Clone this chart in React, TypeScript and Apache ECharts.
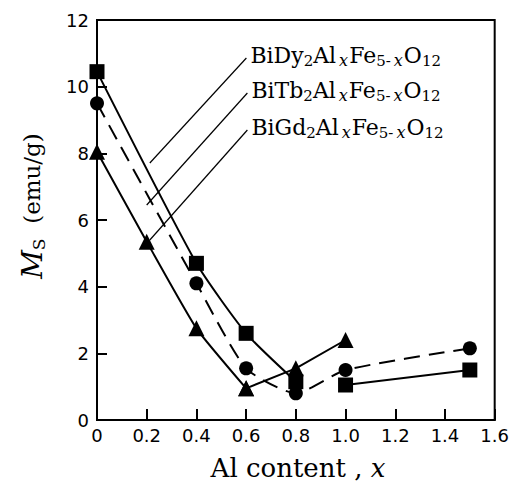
import React, { useEffect, useRef } from "react";
import * as echarts from "echarts";

// Al content x and Ms values (emu/g)
const dyX = [0, 0.4, 0.6, 0.8, 1.0, 1.5];
const dyY = [10.45, 4.7, 2.6, 1.15, 1.05, 1.5];
const tbX = [0, 0.4, 0.6, 0.8, 1.0, 1.5];
const tbY = [9.5, 4.1, 1.55, 0.8, 1.5, 2.15];
const gdX = [0, 0.2, 0.4, 0.6, 0.8, 1.0];
const gdY = [8.05, 5.35, 2.75, 0.95, 1.55, 2.4];

const labelNames = ["Dy", "Tb", "Gd"];
// leader lines: [start(x,y), end(x,y)] in data coords
const leaderStart = [
  [0.601, 10.86],
  [0.605, 9.81],
  [0.605, 8.7],
];
const leaderEnd = [
  [0.2125, 7.71],
  [0.2, 6.45],
  [0.2125, 5.4],
];

const pts = (xs: number[], ys: number[], a: number, b: number) =>
  xs.slice(a, b).map((x, i) => [x, ys[a + i]]);

const SERIF = "DejaVu Serif";

export default function App() {
  const ref = useRef<HTMLDivElement>(null);
  useEffect(() => {
    const chart = echarts.init(ref.current!, null, { renderer: "svg" });
    const line = (dashed: boolean) => ({
      color: "#000",
      width: 2,
      type: dashed ? [16, 9] : "solid",
    });
    const mk = (
      name: string,
      data: number[][],
      symbol: string,
      size: number,
      dashed: boolean,
      smooth: number | boolean
    ) => ({
      type: "line",
      name,
      data,
      symbol,
      symbolSize: size,
      smooth,
      itemStyle: { color: "#000" },
      lineStyle: line(dashed),
      z: 3,
    });
    chart.setOption({
      animation: false,
      grid: {
        left: 97,
        right: 16,
        top: 20,
        bottom: 64,
        show: true,
        borderColor: "#000",
        borderWidth: 2,
      },
      xAxis: {
        type: "value",
        min: 0,
        max: 1.6,
        interval: 0.2,
        axisLine: { show: true, lineStyle: { color: "#000", width: 2 } },
        axisTick: { show: true, inside: true, length: 11, lineStyle: { color: "#000", width: 2 } },
        axisLabel: {
          color: "#000",
          fontFamily: "DejaVu Sans",
          fontSize: 18,
          margin: 6,
          formatter: (v: number) => (v === 0 ? "0" : v.toFixed(1)),
        },
        splitLine: { show: false },
      },
      yAxis: {
        type: "value",
        min: 0,
        max: 12,
        interval: 2,
        axisLine: { show: true, lineStyle: { color: "#000", width: 2 } },
        axisTick: { show: true, inside: true, length: 10, lineStyle: { color: "#000", width: 2 } },
        axisLabel: {
          color: "#000",
          fontFamily: "DejaVu Sans",
          fontSize: 18,
          margin: 8,
        },
        splitLine: { show: false },
      },
      series: [
        mk("BiDy2AlxFe5-xO12", pts(dyX, dyY, 0, 4), "rect", 15, false, 0.2),
        mk("BiDy2AlxFe5-xO12 b", pts(dyX, dyY, 4, 6), "rect", 15, false, false),
        mk("BiTb2AlxFe5-xO12", pts(tbX, tbY, 0, 6), "circle", 14, true, 0.2),
        mk("BiGd2AlxFe5-xO12", pts(gdX, gdY, 0, 4), "triangle", 16, false, 0.15),
        mk("BiGd2AlxFe5-xO12 b", pts(gdX, gdY, 3, 6), "triangle", 16, false, false),
        {
          type: "line",
          name: "leaders",
          data: [],
          markLine: {
            silent: true,
            symbol: ["none", "none"],
            label: { show: false },
            lineStyle: { color: "#000", width: 1.2, type: "solid" },
            data: leaderStart.map((s, i) => [{ coord: s }, { coord: leaderEnd[i] }]),
          },
        },
      ],
    });

    const rich = {
      n: { fontFamily: SERIF, fontSize: 22, lineHeight: 26, fill: "#000" },
      s: { fontFamily: SERIF, fontSize: 15, lineHeight: 6, verticalAlign: "bottom", fill: "#000" },
      si: {
        fontFamily: SERIF,
        fontSize: 16,
        fontStyle: "italic",
        lineHeight: 6,
        verticalAlign: "bottom",
        fill: "#000",
        padding: [0, 1, 0, 3],
      },
    };
    const labels = labelNames.map((el, i) => {
      const p = chart.convertToPixel({ gridIndex: 0 }, leaderStart[i]) as number[];
      return {
        type: "text",
        x: p[0] + 4,
        y: p[1] - 3,
        style: {
          text: `{n|Bi${el}}{s|2}{n|Al}{si|x}{n|Fe}{s|5-}{si|x}{n|O}{s|12}`,
          rich,
          align: "left",
          verticalAlign: "middle",
          fill: "#000",
        },
      };
    });
    chart.setOption({
      graphic: [
        ...labels,
        {
          type: "text",
          x: 298,
          y: 468,
          style: {
            text: "{n|Al content , }{i|x}",
            rich: {
              n: { fontFamily: SERIF, fontSize: 26, fill: "#000" },
              i: { fontFamily: SERIF, fontSize: 26, fontStyle: "italic", fill: "#000" },
            },
            align: "center",
            verticalAlign: "middle",
          },
        },
        {
          type: "text",
          x: 32,
          y: 206,
          rotation: Math.PI / 2,
          style: {
            text: "{m|M}{s|S}{n|  (emu/g)}",
            rich: {
              m: { fontFamily: SERIF, fontSize: 28, fontStyle: "italic", lineHeight: 30, fill: "#000" },
              s: { fontFamily: SERIF, fontSize: 17, lineHeight: 8, verticalAlign: "bottom", fill: "#000" },
              n: { fontFamily: SERIF, fontSize: 23, lineHeight: 30, fill: "#000" },
            },
            align: "center",
            verticalAlign: "middle",
          },
        },
      ],
    });
    return () => chart.dispose();
  }, []);
  return (
    <div
      ref={ref}
      style={{ position: "fixed", left: 0, top: 0, width: 512, height: 484, background: "#fff" }}
    />
  );
}
